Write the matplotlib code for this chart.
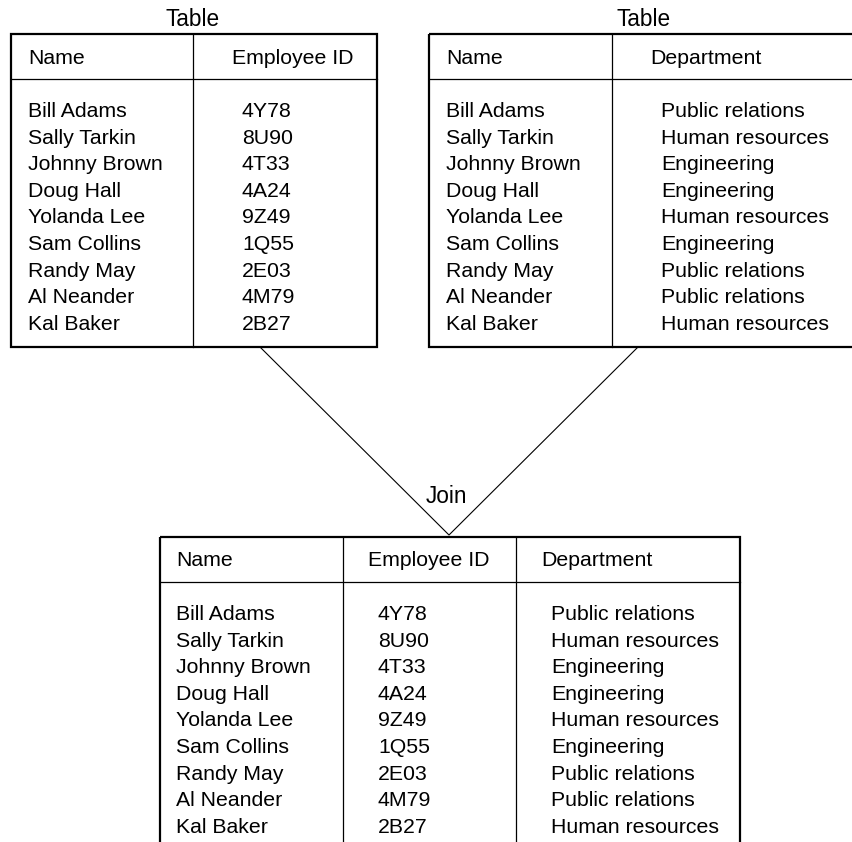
import matplotlib
matplotlib.use('Agg')
import matplotlib.pyplot as plt
from matplotlib.patches import Rectangle

plt.rcParams['font.family'] = ['Liberation Sans', 'DejaVu Sans']

# data
names = ['Bill Adams', 'Sally Tarkin', 'Johnny Brown', 'Doug Hall', 'Yolanda Lee',
         'Sam Collins', 'Randy May', 'Al Neander', 'Kal Baker']
emp_ids = ['4Y78', '8U90', '4T33', '4A24', '9Z49', '1Q55', '2E03', '4M79', '2B27']
departments = ['Public relations', 'Human resources', 'Engineering', 'Engineering',
               'Human resources', 'Engineering', 'Public relations', 'Public relations',
               'Human resources']
headers_left = ['Name', 'Employee ID']
headers_right = ['Name', 'Department']
headers_join = ['Name', 'Employee ID', 'Department']
table_title = 'Table'
join_label = 'Join'

W, H = 852, 842
BODY = 15.3
TITLE = 16.3
ROW = 26.6

fig = plt.figure(figsize=(W / 100, H / 100), dpi=100)
ax = fig.add_axes([0, 0, 1, 1])
ax.set_xlim(0, W)
ax.set_ylim(H, 0)
ax.axis('off')


def draw_table(left, right, top, bottom, dividers, headers, header_x, columns, col_x, title=None, title_x=None):
    ax.add_patch(Rectangle((left, top), right - left, bottom - top, fill=False,
                           edgecolor='black', linewidth=1.6))
    ax.plot([left, right], [top + 45, top + 45], color='black', lw=0.9)
    for d in dividers:
        ax.plot([d, d], [top, bottom], color='black', lw=0.9)
    for h, hx in zip(headers, header_x):
        ax.text(hx, top + 29.5, h, fontsize=BODY, va='baseline', ha='left')
    for col, cx in zip(columns, col_x):
        for i, v in enumerate(col):
            ax.text(cx, top + 83 + i * ROW, v, fontsize=BODY, va='baseline', ha='left')
    if title:
        ax.text(title_x, top - 8, title, fontsize=TITLE, va='baseline', ha='center')


# top left: names + ids
draw_table(11, 377, 34, 347, [193], headers_left, [28, 232],
           [names, emp_ids], [28, 242], table_title, 193)
# top right: names + departments (runs off the right edge)
draw_table(429, 870, 34, 347, [612], headers_right, [446, 650],
           [names, departments], [446, 661], table_title, 644)
# join result (runs off the bottom edge)
draw_table(160, 740, 537, 870, [343, 516], headers_join, [176, 368, 541],
           [names, emp_ids, departments], [176, 378, 551])

# join lines
apex = (449, 535)
ax.plot([260, apex[0], 638], [347, apex[1], 347], color='black', lw=0.8)
ax.text(446, 503, join_label, fontsize=TITLE, va='baseline', ha='center')

fig.savefig('out.png', dpi=100)
